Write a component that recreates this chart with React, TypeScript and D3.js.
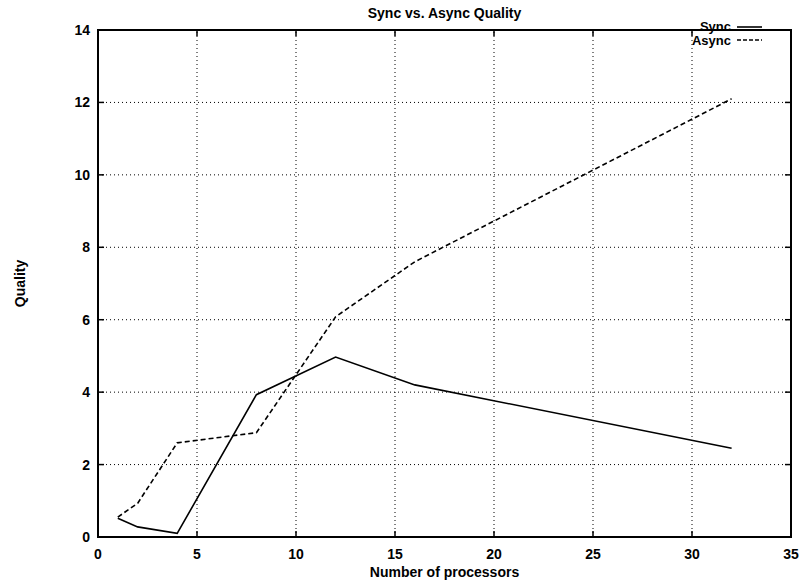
import React from "react";
import * as d3 from "d3";

const procs = [1, 2, 4, 8, 12, 16, 32];
const syncQuality = [0.52, 0.28, 0.1, 3.93, 4.97, 4.2, 2.45];
const asyncQuality = [0.55, 0.93, 2.6, 2.88, 6.08, 7.6, 12.1];
const xTicks = [0, 5, 10, 15, 20, 25, 30, 35];
const yTicks = [0, 2, 4, 6, 8, 10, 12, 14];
const seriesNames = ["Sync", "Async"];

const W = 802;
const H = 580;
const M = { left: 98, right: 11, top: 30, bottom: 43 };
const FONT = "'Liberation Sans', Arial, Helvetica, sans-serif";

export default function App() {
  const x = d3.scaleLinear().domain([0, 35]).range([M.left, W - M.right]);
  const y = d3.scaleLinear().domain([0, 14]).range([H - M.bottom, M.top]);
  const line = d3
    .line<[number, number]>()
    .x((d) => x(d[0]))
    .y((d) => y(d[1]));
  const syncPts = procs.map((p, i) => [p, syncQuality[i]] as [number, number]);
  const asyncPts = procs.map((p, i) => [p, asyncQuality[i]] as [number, number]);
  const [x0, x1] = x.range();
  const [y0, y1] = y.range();

  return (
    <svg
      width={W}
      height={H}
      style={{ position: "absolute", left: 0, top: 0, background: "#fff" }}
      fontFamily={FONT}
    >
      <rect x={0} y={0} width={W} height={H} fill="#fff" />
      {/* grid */}
      {xTicks.slice(1, -1).map((t) => (
        <line key={"gx" + t} x1={x(t)} x2={x(t)} y1={y0} y2={y1} stroke="#000" strokeWidth={1} strokeDasharray="1,3" />
      ))}
      {yTicks.slice(1, -1).map((t) => (
        <line key={"gy" + t} x1={x0} x2={x1} y1={y(t)} y2={y(t)} stroke="#000" strokeWidth={1} strokeDasharray="1,3" />
      ))}
      {/* ticks */}
      {xTicks.map((t) => (
        <g key={"tx" + t}>
          <line x1={x(t)} x2={x(t)} y1={y0} y2={y0 - 6} stroke="#000" strokeWidth={1.5} />
          <line x1={x(t)} x2={x(t)} y1={y1} y2={y1 + 6} stroke="#000" strokeWidth={1.5} />
          <text x={x(t)} y={y0 + 22} textAnchor="middle" fontSize={14} fontWeight="bold">
            {t}
          </text>
        </g>
      ))}
      {yTicks.map((t) => (
        <g key={"ty" + t}>
          <line x1={x0} x2={x0 + 6} y1={y(t)} y2={y(t)} stroke="#000" strokeWidth={1.5} />
          <line x1={x1} x2={x1 - 6} y1={y(t)} y2={y(t)} stroke="#000" strokeWidth={1.5} />
          <text x={x0 - 8} y={y(t) + 5} textAnchor="end" fontSize={14} fontWeight="bold">
            {t}
          </text>
        </g>
      ))}
      {/* frame */}
      <rect x={x0} y={y1} width={x1 - x0} height={y0 - y1} fill="none" stroke="#000" strokeWidth={2} />
      {/* series */}
      <path d={line(syncPts) || ""} fill="none" stroke="#000" strokeWidth={1.6} />
      <path d={line(asyncPts) || ""} fill="none" stroke="#000" strokeWidth={1.6} strokeDasharray="5,3" />
      {/* legend */}
      <text x={731} y={31} textAnchor="end" fontSize={13} fontWeight="bold">
        {seriesNames[0]}
      </text>
      <line x1={737} x2={762} y1={27} y2={27} stroke="#000" strokeWidth={1.6} />
      <text x={731} y={45} textAnchor="end" fontSize={13} fontWeight="bold">
        {seriesNames[1]}
      </text>
      <line x1={737} x2={762} y1={40} y2={40} stroke="#000" strokeWidth={1.6} strokeDasharray="4,2" />
      {/* titles */}
      <text x={(x0 + x1) / 2} y={18} textAnchor="middle" fontSize={14} fontWeight="bold">
        Sync vs. Async Quality
      </text>
      <text x={(x0 + x1) / 2} y={577} textAnchor="middle" fontSize={14} fontWeight="bold">
        Number of processors
      </text>
      <text
        transform={`translate(25, ${(y0 + y1) / 2}) rotate(-90)`}
        textAnchor="middle"
        fontSize={14}
        fontWeight="bold"
      >
        Quality
      </text>
    </svg>
  );
}
